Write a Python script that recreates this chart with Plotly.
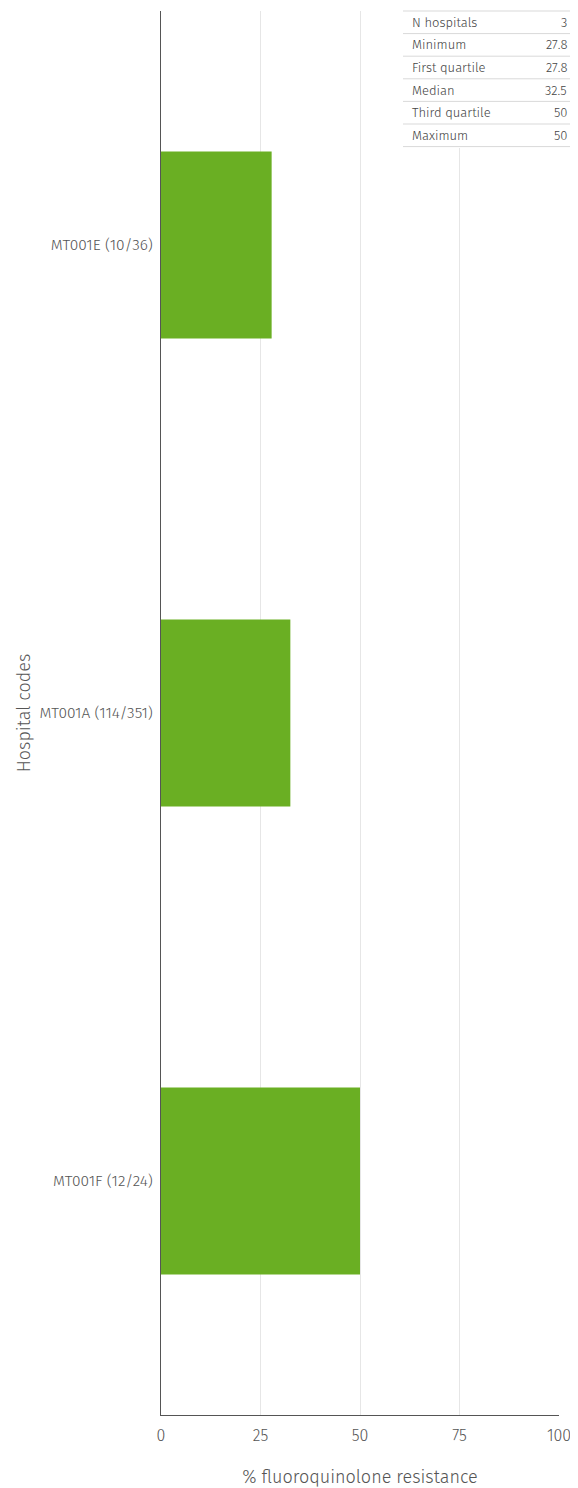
import plotly.graph_objects as go

hospitals = ["MT001E (10/36)", "MT001A (114/351)", "MT001F (12/24)"]
resistance = [27.8, 32.5, 50.0]

stat_labels = ["N hospitals", "Minimum", "First quartile", "Median", "Third quartile", "Maximum"]
stat_values = ["3", "27.8", "27.8", "32.5", "50", "50"]

OFF = 8  # default page body margin
W, H = 578 - OFF, 1488 - OFF
ML, MR, MT, MB = 161 - OFF, 19, 11 - OFF, 73
PW, PH = W - ML - MR, H - MT - MB

def px(x):
    return (x - OFF - ML) / PW

def py(y):
    return (H - MB - (y - OFF)) / PH

font_fam = "Fira Sans, Open Sans, Noto Sans, sans-serif"
grey = "#555555"

fig = go.Figure(go.Bar(
    x=resistance, y=hospitals, orientation="h",
    marker=dict(color="#6AAF23", line=dict(width=0)),
    hoverinfo="x+y",
))

shapes = []
annotations = []
shapes.append(dict(type="rect", xref="paper", yref="paper", x0=px(402), x1=px(577), y0=py(148), y1=py(9),
                   fillcolor="white", line=dict(width=0), layer="above"))
row_top, row_h = 11, 22.6
for i in range(len(stat_labels) + 1):
    yy = row_top + i * row_h
    shapes.append(dict(type="line", xref="paper", yref="paper", x0=px(403), x1=px(576), y0=py(yy), y1=py(yy),
                       line=dict(color="#d9d9d9", width=1), layer="above"))
for i, (lab, val) in enumerate(zip(stat_labels, stat_values)):
    yc = row_top + (i + 0.5) * row_h
    annotations.append(dict(xref="paper", yref="paper", x=px(410), y=py(yc), text=lab, showarrow=False,
                            xanchor="left", yanchor="middle",
                            font=dict(size=13, color="#444", family=font_fam, weight=300)))
    annotations.append(dict(xref="paper", yref="paper", x=px(569), y=py(yc), text=val, showarrow=False,
                            xanchor="right", yanchor="middle",
                            font=dict(size=13, color="#444", family=font_fam, weight=300)))

fig.update_layout(
    width=W, height=H,
    margin=dict(l=ML, r=MR, t=MT, b=MB),
    paper_bgcolor="white", plot_bgcolor="white",
    bargap=0.6,
    showlegend=False,
    font=dict(family=font_fam, color=grey, weight=300),
    xaxis=dict(range=[0, 100], tickvals=[0, 25, 50, 75, 100], showgrid=True, gridcolor="#e6e6e6", gridwidth=1,
               zeroline=False, showline=True, linecolor="#555", linewidth=1, ticks="outside", ticklen=6,
               tickcolor="rgba(0,0,0,0)",
               tickfont=dict(size=16, color=grey, weight=300), fixedrange=True,
               title=dict(text="% fluoroquinolone resistance", font=dict(size=18, color=grey, weight=300),
                          standoff=26)),
    yaxis=dict(autorange="reversed", showgrid=False, zeroline=False, showline=True, linecolor="#555", linewidth=1,
               ticks="outside", ticklen=4, tickcolor="rgba(0,0,0,0)",
               tickfont=dict(size=15.5, color=grey, weight=300),
               title=dict(text="Hospital codes", font=dict(size=18, color=grey, weight=300), standoff=4)),
    shapes=shapes, annotations=annotations,
)

fig.write_html("out.html", config={"displayModeBar": False})
